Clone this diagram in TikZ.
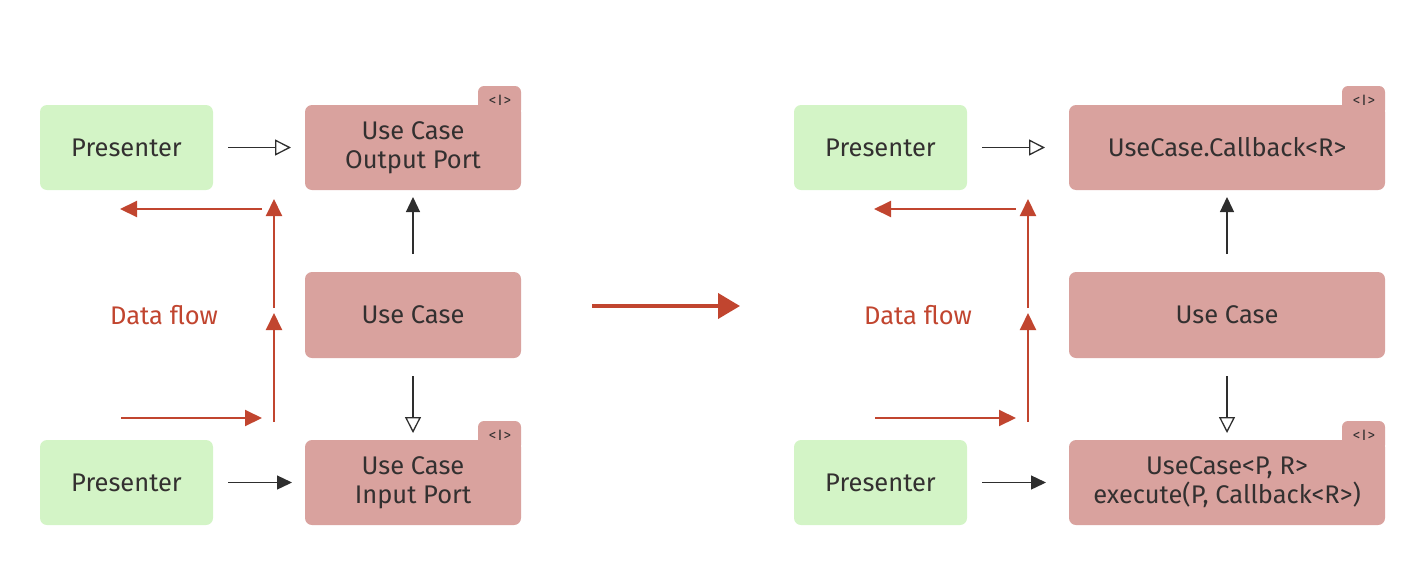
\documentclass[tikz,border=0pt]{standalone}
\usepackage{fontspec}
\setmainfont{Fira Sans}
\usetikzlibrary{arrows.meta,backgrounds}
\definecolor{pgreen}{HTML}{D3F4C6}
\definecolor{ppink}{HTML}{D9A29E}
\definecolor{tdark}{HTML}{333030}
\definecolor{dred}{HTML}{C1452F}
\definecolor{ldark}{HTML}{2E2E2E}
\tikzset{
  base/.style={rounded corners=7pt, inner sep=0pt, align=center, text=tdark,
    font=\fontsize{25.5}{29}\selectfont},
  presbox/.style={base, fill=pgreen, minimum width=173pt, minimum height=85pt},
  ucbox/.style={base, fill=ppink, minimum height=85pt},
  tabbox/.style={fill=ppink, rounded corners=6pt, minimum width=43pt, minimum height=30pt,
    anchor=north east, yshift=19pt, inner sep=0pt},
  tabtext/.style={text=tdark, inner sep=0pt, font=\fontsize{15}{16}\selectfont},
  openarr/.style={draw=ldark, line width=1.3pt, -{Triangle[open, length=16pt, width=16pt, line width=1.3pt]}},
  fillarr/.style={draw=ldark, line width=1.3pt, -{Triangle[length=15pt, width=14pt]}},
  redarr/.style={draw=dred, line width=2pt, -{Triangle[length=17pt, width=16pt]}},
  bigarr/.style={draw=dred, line width=4pt, -{Triangle[length=22pt, width=25pt]}},
  flowtext/.style={text=dred, font=\fontsize{25.5}{27}\selectfont}
}
\newcommand{\ifc}{<\kern1.5pt I\kern1.5pt>}
\begin{document}
\begin{tikzpicture}[x=1pt, y=-1pt]
\useasboundingbox (0,0) rectangle (1402,576);
% ---------- left ----------
\node[presbox] (p1) at (126.5,147.5) {Presenter};
\node[ucbox, minimum width=216pt] (op1) at (413,147.5) {Use Case\\Output Port};
\node[ucbox, minimum width=216pt, minimum height=86pt] (uc1) at (413,315) {Use Case};
\node[ucbox, minimum width=216pt] (ip1) at (413,482.5) {Use Case\\Input Port};
\node[presbox] (p2) at (126.5,482.5) {Presenter};
\begin{scope}[on background layer]
\node[tabbox] (t1) at (op1.north east) {};
\node[tabbox] (t2) at (ip1.north east) {};
\end{scope}
\node[tabtext] (l1) at (500,100) {\ifc};
\node[tabtext] (l2) at (500,435) {\ifc};
\coordinate (a1s) at (228,147.5); \coordinate (a1e) at (291,147.5);
\draw[openarr] (a1s) -- (a1e);
\coordinate (a2s) at (413,254); \coordinate (a2e) at (413,197);
\draw[fillarr] (a2s) -- (a2e);
\coordinate (a3s) at (413,376); \coordinate (a3e) at (413,433);
\draw[openarr] (a3s) -- (a3e);
\coordinate (a4s) at (228,482.5); \coordinate (a4e) at (292,482.5);
\draw[fillarr] (a4s) -- (a4e);
\coordinate (r1s) at (121,418); \coordinate (r1e) at (262,418);
\draw[redarr] (r1s) -- (r1e);
\coordinate (r2s) at (274,422); \coordinate (r2e) at (274,313);
\draw[redarr] (r2s) -- (r2e);
\coordinate (r3s) at (274,308); \coordinate (r3e) at (274,199);
\draw[redarr] (r3s) -- (r3e);
\coordinate (r4s) at (262,209); \coordinate (r4e) at (120,209);
\draw[redarr] (r4s) -- (r4e);
\node[flowtext] (df1) at (164,315) {Data flow};
% ---------- middle ----------
\coordinate (bs) at (592,306); \coordinate (be) at (740,306);
\draw[bigarr] (bs) -- (be);
% ---------- right ----------
\node[presbox] (p3) at (880.5,147.5) {Presenter};
\node[ucbox, minimum width=316pt] (cb) at (1227,147.5) {UseCase.Callback<R>};
\node[ucbox, minimum width=316pt, minimum height=86pt] (uc2) at (1227,315) {Use Case};
\node[ucbox, minimum width=316pt] (ex) at (1227,482.5) {UseCase<P, R>\\execute(P, Callback<R>)};
\node[presbox] (p4) at (880.5,482.5) {Presenter};
\begin{scope}[on background layer]
\node[tabbox] (t3) at (cb.north east) {};
\node[tabbox] (t4) at (ex.north east) {};
\end{scope}
\node[tabtext] (l3) at (1364,100) {\ifc};
\node[tabtext] (l4) at (1364,435) {\ifc};
\coordinate (b1s) at (982,147.5); \coordinate (b1e) at (1045,147.5);
\draw[openarr] (b1s) -- (b1e);
\coordinate (b2s) at (1227,254); \coordinate (b2e) at (1227,197);
\draw[fillarr] (b2s) -- (b2e);
\coordinate (b3s) at (1227,376); \coordinate (b3e) at (1227,433);
\draw[openarr] (b3s) -- (b3e);
\coordinate (b4s) at (982,482.5); \coordinate (b4e) at (1046,482.5);
\draw[fillarr] (b4s) -- (b4e);
\coordinate (s1s) at (875,418); \coordinate (s1e) at (1016,418);
\draw[redarr] (s1s) -- (s1e);
\coordinate (s2s) at (1028,422); \coordinate (s2e) at (1028,313);
\draw[redarr] (s2s) -- (s2e);
\coordinate (s3s) at (1028,308); \coordinate (s3e) at (1028,199);
\draw[redarr] (s3s) -- (s3e);
\coordinate (s4s) at (1016,209); \coordinate (s4e) at (874,209);
\draw[redarr] (s4s) -- (s4e);
\node[flowtext] (df2) at (918,315) {Data flow};
\end{tikzpicture}
\end{document}
